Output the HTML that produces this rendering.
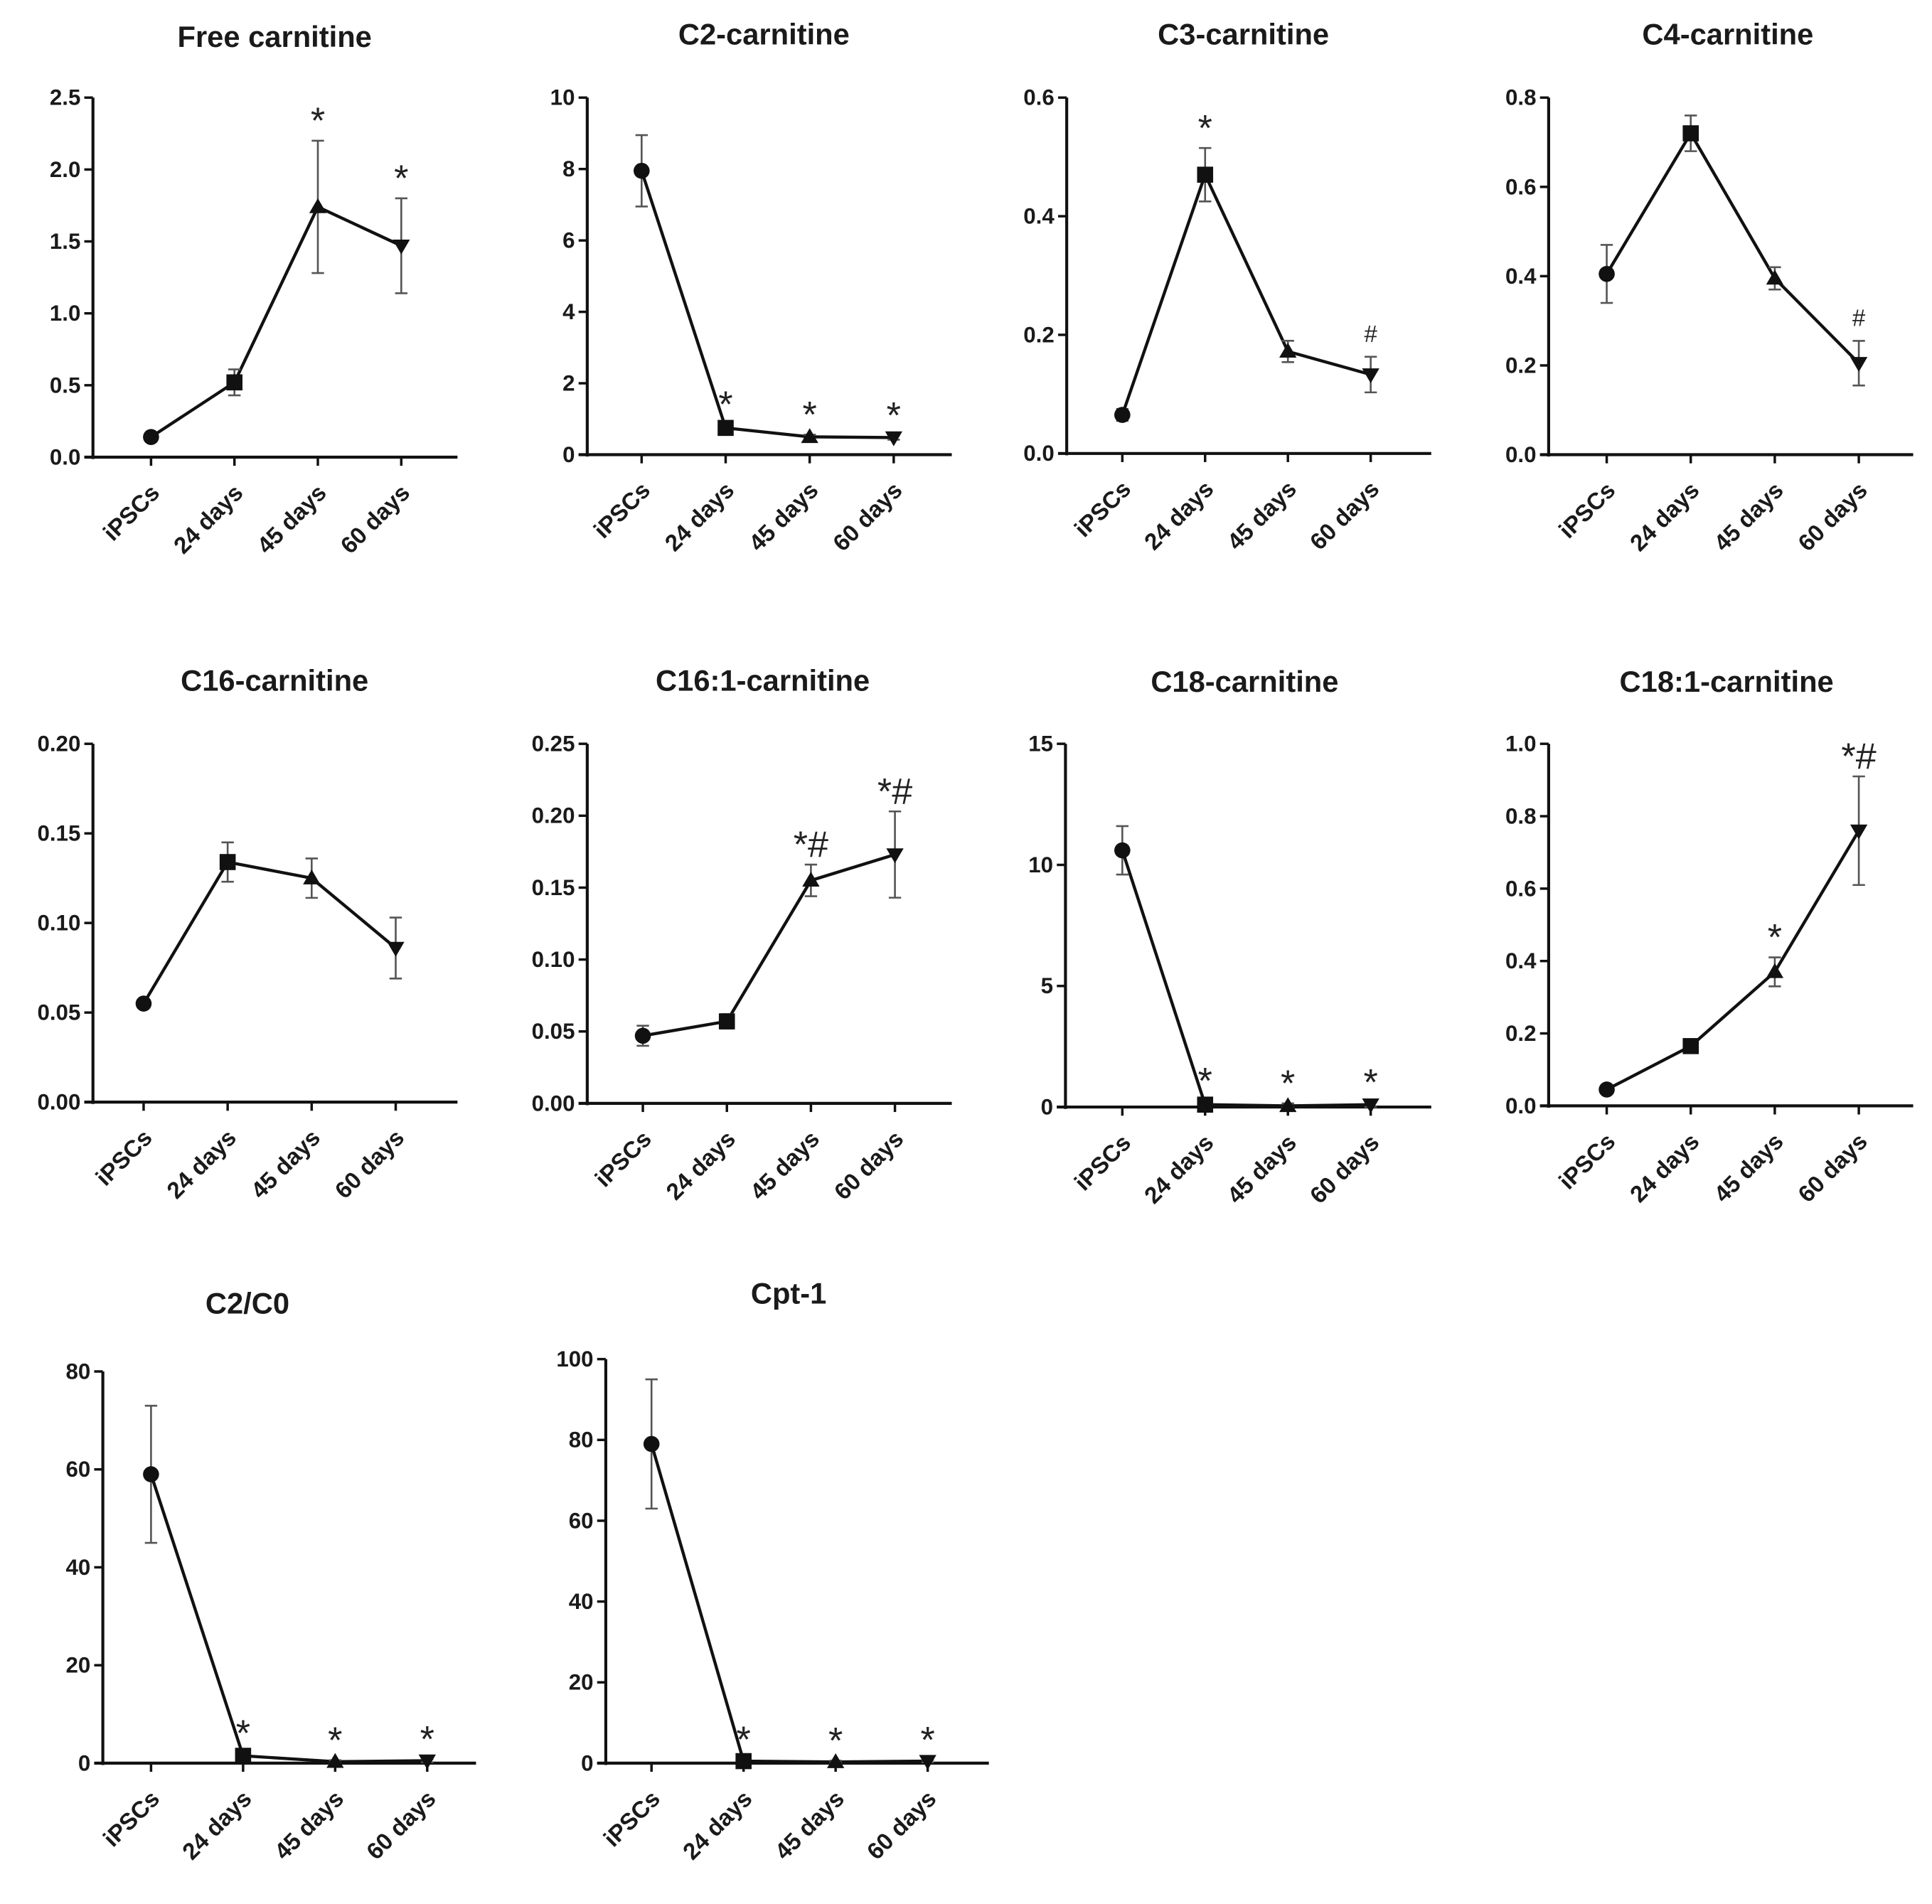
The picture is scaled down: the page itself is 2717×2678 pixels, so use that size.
<!DOCTYPE html>
<html><head><meta charset="utf-8"><style>
html,body{margin:0;padding:0;background:#fff;}
svg{display:block;font-family:"Liberation Sans",Arial,sans-serif;font-weight:bold;}
</style></head><body>
<svg id="fig" width="2717" height="2678" viewBox="0 0 1563 1541" xmlns="http://www.w3.org/2000/svg"></svg>
<script>
const categories = ["iPSCs","24 days","45 days","60 days"];
const freeVals=[0.14,0.52,1.74,1.47], freeErr=[0.03,0.09,0.46,0.33], freeAnn=["","","*","*"], freeTicks=[0,0.5,1.0,1.5,2.0,2.5];
const c2Vals=[7.95,0.75,0.5,0.48], c2Err=[1.0,0.1,0.06,0.06], c2Ann=["","*","*","*"], c2Ticks=[0,2,4,6,8,10];
const c3Vals=[0.065,0.47,0.172,0.133], c3Err=[0.01,0.045,0.018,0.03], c3Ann=["","*","","#"], c3Ticks=[0,0.2,0.4,0.6];
const c4Vals=[0.405,0.72,0.395,0.205], c4Err=[0.065,0.04,0.025,0.05], c4Ann=["","","","#"], c4Ticks=[0,0.2,0.4,0.6,0.8];
const c16Vals=[0.055,0.134,0.125,0.086], c16Err=[0.002,0.011,0.011,0.017], c16Ann=["","","",""], c16Ticks=[0,0.05,0.10,0.15,0.20];
const c161Vals=[0.047,0.057,0.155,0.173], c161Err=[0.007,0.005,0.011,0.03], c161Ann=["","","*#","*#"], c161Ticks=[0,0.05,0.10,0.15,0.20,0.25];
const c18Vals=[10.6,0.1,0.05,0.1], c18Err=[1.0,0.15,0.1,0.1], c18Ann=["","*","*","*"], c18Ticks=[0,5,10,15];
const c181Vals=[0.045,0.165,0.37,0.76], c181Err=[0.005,0.01,0.04,0.15], c181Ann=["","","*","*#"], c181Ticks=[0,0.2,0.4,0.6,0.8,1.0];
const c2c0Vals=[59,1.5,0.3,0.5], c2c0Err=[14,0.5,0.3,0.3], c2c0Ann=["","*","*","*"], c2c0Ticks=[0,20,40,60,80];
const cptVals=[79,0.5,0.3,0.5], cptErr=[16,0.4,0.3,0.3], cptAnn=["","*","*","*"], cptTicks=[0,20,40,60,80,100];

const NS="http://www.w3.org/2000/svg";
const svg=document.getElementById("fig");
function mk(tag,attrs,parent){const e=document.createElementNS(NS,tag);for(const k in attrs)e.setAttribute(k,attrs[k]);(parent||svg).appendChild(e);return e;}

const panels=[
 {id:"free",title:"Free carnitine",tx:222,ty:38,ax:75,x0:47,step:67.5,xr:370,top:79,bot:370,vals:freeVals,err:freeErr,ann:freeAnn,ticks:freeTicks,dec:1},
 {id:"c2",title:"C2-carnitine",tx:618,ty:36,ax:475,x0:44,step:68,xr:770,top:79,bot:368,vals:c2Vals,err:c2Err,ann:c2Ann,ticks:c2Ticks,dec:0},
 {id:"c3",title:"C3-carnitine",tx:1006,ty:36,ax:863,x0:45,step:67,xr:1158,top:79,bot:367,vals:c3Vals,err:c3Err,ann:c3Ann,ticks:c3Ticks,dec:1},
 {id:"c4",title:"C4-carnitine",tx:1398,ty:36,ax:1253,x0:47,step:68,xr:1548,top:79,bot:368,vals:c4Vals,err:c4Err,ann:c4Ann,ticks:c4Ticks,dec:1},
 {id:"c16",title:"C16-carnitine",tx:222,ty:559,ax:75,x0:41,step:68,xr:370,top:602,bot:892,vals:c16Vals,err:c16Err,ann:c16Ann,ticks:c16Ticks,dec:2},
 {id:"c161",title:"C16:1-carnitine",tx:617,ty:559,ax:475,x0:45,step:68,xr:770,top:602,bot:893,vals:c161Vals,err:c161Err,ann:c161Ann,ticks:c161Ticks,dec:2},
 {id:"c18",title:"C18-carnitine",tx:1007,ty:560,ax:862,x0:46,step:67,xr:1158,top:602,bot:896,vals:c18Vals,err:c18Err,ann:c18Ann,ticks:c18Ticks,dec:0},
 {id:"c181",title:"C18:1-carnitine",tx:1397,ty:560,ax:1253,x0:47,step:68,xr:1548,top:602,bot:895,vals:c181Vals,err:c181Err,ann:c181Ann,ticks:c181Ticks,dec:1},
 {id:"c2c0",title:"C2/C0",tx:200,ty:1063,ax:83,x0:39,step:74.5,xr:385,top:1110,bot:1427,vals:c2c0Vals,err:c2c0Err,ann:c2c0Ann,ticks:c2c0Ticks,dec:0},
 {id:"cpt1",title:"Cpt-1",tx:638,ty:1055,ax:490,x0:37,step:74.5,xr:800,top:1100,bot:1427,vals:cptVals,err:cptErr,ann:cptAnn,ticks:cptTicks,dec:0}
];

panels.forEach(p=>{
  const g=mk("g",{});
  
  
  const tmax=p.ticks[p.ticks.length-1];
  const y=v=>p.bot-(v/tmax)*(p.bot-p.top);
  const x=i=>p.ax+p.x0+i*p.step;
  const t=mk("text",{x:p.tx,y:p.ty,"text-anchor":"middle","font-size":24,fill:"#1a1a1a"},g);
  t.textContent=p.title;
  
  
  const ya=mk("line",{x1:p.ax,y1:p.top,x2:p.ax,y2:p.bot+1.5,stroke:"#111","stroke-width":2.4},g);
  
  
  const xa=mk("line",{x1:p.ax-7,y1:p.bot,x2:p.xr,y2:p.bot,stroke:"#111","stroke-width":2.4},g);
  
  
  p.ticks.forEach(tv=>{
    const yy=y(tv);
    mk("line",{x1:p.ax-7,y1:yy,x2:p.ax,y2:yy,stroke:"#111","stroke-width":2},g);
    const tl=mk("text",{x:p.ax-10,y:yy+6,"text-anchor":"end","font-size":18,fill:"#1a1a1a"},g);
    tl.textContent=tv.toFixed(p.dec);
    
    
  });
  categories.forEach((c,i)=>{
    const xx=x(i);
    mk("line",{x1:xx,y1:p.bot,x2:xx,y2:p.bot+7,stroke:"#111","stroke-width":2},g);
    const lx=xx+8, ly=p.bot+30;
    const cl=mk("text",{x:lx,y:ly,"text-anchor":"end","font-size":19,fill:"#1a1a1a",transform:`rotate(-45 ${lx} ${ly})`},g);
    cl.textContent=c;
    
    
  });
  const pts=p.vals.map((v,i)=>x(i)+","+y(v)).join(" ");
  const pl=mk("polyline",{points:pts,fill:"none",stroke:"#111","stroke-width":2.5},g);
  
  
  p.vals.forEach((v,i)=>{
    const xx=x(i), yy=y(v), yt=y(v+p.err[i]), yb=y(Math.max(0,v-p.err[i]));
    const eb=mk("path",{d:`M${xx},${yt}V${yb}M${xx-5},${yt}H${xx+5}M${xx-5},${yb}H${xx+5}`,stroke:"#555","stroke-width":1.5,fill:"none"},g);
    
    
    let m;
    if(i===0) m=mk("circle",{cx:xx,cy:yy,r:6.5,fill:"#111"},g);
    else if(i===1) m=mk("rect",{x:xx-6.5,y:yy-6.5,width:13,height:13,fill:"#111"},g);
    else if(i===2) m=mk("path",{d:`M${xx},${yy-7}L${xx+7},${yy+5}L${xx-7},${yy+5}Z`,fill:"#111"},g);
    else m=mk("path",{d:`M${xx},${yy+7}L${xx+7},${yy-5}L${xx-7},${yy-5}Z`,fill:"#111"},g);
    
    
    if(p.ann[i]){
      const star=p.ann[i].startsWith("*");
      const at=mk("text",{x:xx,y:yt-(star?6:12),"text-anchor":"middle","font-size":star?30:19,"font-weight":"normal",fill:"#222"},g);
      at.textContent=p.ann[i];
      
      
    }
  });
});
</script>
</body></html>
